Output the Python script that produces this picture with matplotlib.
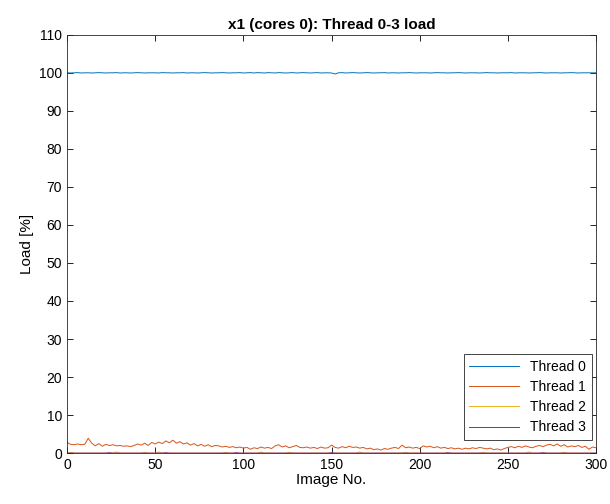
import numpy as np
import matplotlib
matplotlib.use("Agg")
import matplotlib.pyplot as plt

plt.rcParams['font.family'] = ['Liberation Sans', 'DejaVu Sans']

# image numbers (every 2nd image)
images = np.arange(0, 301, 2)

thread0 = [100.0, 99.95, 100.0, 100.05, 99.95, 100.0, 100.0, 99.95, 100.0, 100.05,
           100.0, 99.95, 100.0, 100.0, 100.05, 99.95, 100.0, 100.0, 99.95, 100.0,
           100.05, 100.0, 99.95, 100.0, 100.0, 100.0, 99.95, 100.05, 100.0, 100.0,
           99.95, 100.0, 100.0, 100.05, 99.95, 100.0, 100.0, 99.95, 100.0, 100.05,
           100.0, 99.95, 100.0, 100.0, 100.05, 100.0, 99.95, 100.0, 100.0, 100.05,
           99.95, 100.0, 100.05, 99.95, 100.05, 100.0, 99.95, 100.05, 100.0, 99.95,
           100.05, 100.0, 99.95, 100.0, 100.05, 99.95, 100.0, 100.05, 100.0, 99.95,
           100.0, 100.05, 99.95, 100.0, 100.0, 99.95, 99.7, 100.0, 100.05, 99.95,
           100.0, 100.05, 100.0, 99.95, 100.0, 100.05, 100.0, 99.95, 100.0, 100.0,
           100.05, 99.95, 100.0, 100.0, 99.95, 100.0, 100.0, 100.05, 100.0, 99.95,
           100.0, 100.0, 100.0, 99.95, 100.0, 100.05, 100.0, 100.0, 99.95, 100.0,
           100.0, 100.05, 100.0, 99.95, 100.0, 100.0, 100.0, 99.95, 100.0, 100.05,
           100.0, 100.0, 99.95, 100.0, 100.0, 100.0, 100.05, 99.95, 100.0, 100.0,
           100.0, 99.95, 100.0, 100.0, 100.05, 100.0, 99.95, 100.0, 100.0, 100.0,
           99.95, 100.0, 100.0, 100.05, 100.0, 99.95, 100.0, 100.0, 100.0, 100.0,
           100.0]

thread1 = [2.8, 2.3, 2.2, 2.4, 2.2, 2.3, 3.9, 2.6, 1.9, 2.5,
           1.8, 2.3, 2.0, 2.2, 1.9, 2.0, 1.8, 1.9, 1.7, 2.0,
           2.4, 2.1, 2.6, 2.0, 2.8, 2.4, 2.9, 2.5, 3.2, 2.7,
           3.4, 2.6, 3.0, 2.4, 2.7, 2.1, 2.5, 1.9, 2.3, 1.8,
           2.2, 1.7, 2.0, 1.9, 1.6, 1.8, 1.5, 1.7, 1.4, 1.6,
           1.3, 1.5, 1.0, 1.4, 1.2, 1.6, 1.3, 1.5, 1.2, 1.9,
           2.2, 1.6, 1.9, 1.4, 1.7, 2.0, 1.5, 1.4, 1.6, 1.3,
           1.5, 1.2, 1.6, 1.3, 1.4, 2.1, 1.5, 1.3, 1.7, 1.4,
           1.8, 1.5, 1.6, 1.3, 1.5, 1.1, 1.3, 0.9, 1.1, 0.8,
           1.2, 1.0, 1.3, 1.5, 1.2, 2.1, 1.4, 1.6, 1.3, 1.5,
           1.2, 1.9, 1.6, 1.8, 1.4, 1.7, 1.3, 1.5, 1.2, 1.4,
           1.1, 1.3, 1.0, 1.3, 1.1, 1.4, 1.2, 1.5, 1.3, 1.1,
           1.3, 0.9, 1.1, 0.8, 1.2, 1.5, 1.7, 1.4, 1.8, 1.5,
           1.9, 1.6, 1.4, 1.8, 2.0, 1.7, 2.1, 2.3, 1.9, 2.4,
           1.8, 2.2, 1.6, 1.9, 1.7, 2.0, 1.5, 1.8, 1.0, 1.6,
           1.4]

# threads 2 and 3 sit at zero apart from a few small blips
thread2_blips = {2: 0.2, 28: 0.3, 44: 0.2, 52: 0.3, 90: 0.2, 110: 0.3,
                 126: 0.2, 166: 0.3, 192: 0.2, 236: 0.2, 262: 0.3, 282: 0.2}
thread3_blips = {24: 0.1, 56: 0.1, 96: 0.1, 150: 0.1, 216: 0.1, 270: 0.1}

thread2 = np.zeros(len(images))
for img, val in thread2_blips.items():
    thread2[img // 2] = val
thread3 = np.zeros(len(images))
for img, val in thread3_blips.items():
    thread3[img // 2] = val

colors = ['#0072BD', '#D95319', '#EDB120', '#7E2F8E']

fig = plt.figure(figsize=(6.1, 5.04), dpi=100)
ax = fig.add_axes([0.110, 0.101, 0.867, 0.830])

ax.plot(images, thread0, color=colors[0], lw=0.7, label='Thread 0')
ax.plot(images, thread1, color=colors[1], lw=0.7, label='Thread 1')
ax.plot(images, thread2, color=colors[2], lw=0.7, label='Thread 2')
ax.plot(images, thread3, color=colors[3], lw=0.7, label='Thread 3')

ax.set_xlim(0, 300)
ax.set_ylim(0, 110)
ax.set_xticks(range(0, 301, 50))
ax.set_yticks(range(0, 111, 10))
ax.tick_params(direction='in', top=True, right=True, labelsize=10, length=4, width=0.6)
for s in ax.spines.values():
    s.set_linewidth(0.6)
    s.set_color('#262626')

ax.set_title('x1 (cores 0): Thread 0-3 load', fontsize=11, fontweight='bold', pad=4)
ax.set_xlabel('Image No.', fontsize=11, labelpad=1)
ax.set_ylabel('Load [%]', fontsize=11)

leg = ax.legend(loc='lower right', fontsize=10, fancybox=False, framealpha=1,
                edgecolor='#262626', handlelength=3.6, borderaxespad=0,
                labelspacing=0.45, borderpad=0.4,
                bbox_to_anchor=(592 / 610, 64 / 504), bbox_transform=fig.transFigure)
leg.get_frame().set_linewidth(0.6)

fig.savefig('out.png', dpi=100)
